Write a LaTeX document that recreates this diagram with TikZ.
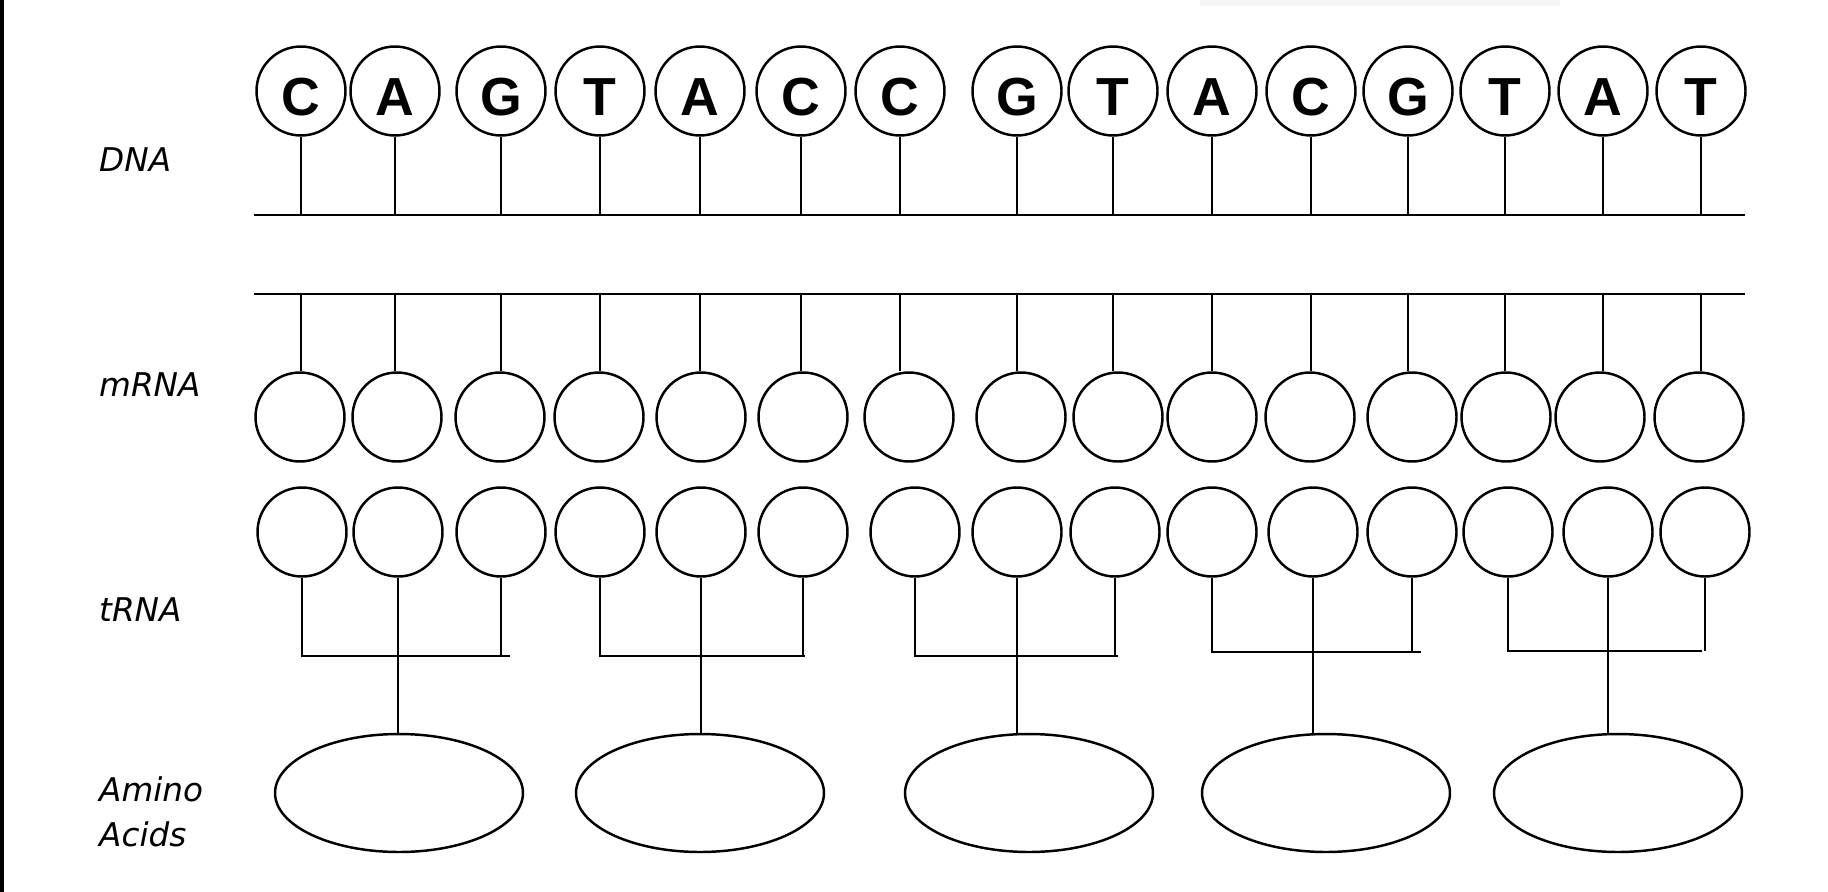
\documentclass[tikz,border=0pt]{standalone}
\usepackage{fontspec}
\setmainfont{DejaVu Sans}
\newfontfamily\letterfont{Liberation Sans}
\usetikzlibrary{shapes.geometric}
\begin{document}
\begin{tikzpicture}[x=0.02cm,y=-0.02cm,
  ball/.style={circle,draw,line width=1.4pt,minimum size=1.78cm,inner sep=0pt},
  dnaball/.style={ball,font=\letterfont\bfseries\fontsize{30.5}{30}\selectfont,text height=27.4pt,text depth=0pt},
  amino/.style={ellipse,draw,line width=1.4pt,minimum width=4.96cm,minimum height=2.36cm,inner sep=0pt},
  strand/.style={line width=1.5pt},
  stem/.style={line width=1.2pt},
  lab/.style={anchor=base west,font=\itshape\fontsize{18.6}{22}\selectfont}]
\useasboundingbox (0,0) rectangle (1828,892);
\fill[white] (0,0) rectangle (1828,892);
\fill[black] (0,0) rectangle (4,892);
\fill[black!4] (1200,0) rectangle (1560,6);

% labels
\node[lab] (lDNA) at (93,171) {DNA};
\node[lab] (lmRNA) at (93,396) {mRNA};
\node[lab] (ltRNA) at (93,621) {tRNA};
\node[lab] (lAmino) at (93,801) {Amino};
\node[lab] (lAcids) at (93,846) {Acids};

% strands
\coordinate (L1a) at (254,215);
\coordinate (L1b) at (1745,215);
\coordinate (L2a) at (254,294);
\coordinate (L2b) at (1745,294);
\draw[strand] (L1a) -- (L1b);
\draw[strand] (L2a) -- (L2b);

% DNA
\foreach \x/\l [count=\i] in {301/C,395/A,501/G,600/T,700/A,801/C,900/C,1017/G,1113/T,1212/A,1311/C,1408/G,1505/T,1603/A,1701/T}
  \node[dnaball] (d\i) at (\x,91) {\l};
% mRNA
\foreach \x [count=\i] in {300,397,500,599,701,803,909,1021,1118,1212,1310,1412,1506,1600,1699}
  \node[ball] (m\i) at (\x,417) {};
% tRNA
\foreach \x [count=\i] in {302,398,501,600,701,803,915,1017,1115,1212,1313,1412,1508,1608,1705}
  \node[ball] (t\i) at (\x,532) {};
% amino acids
\foreach \x [count=\i] in {399,700,1029,1326,1618}
  \node[amino] (a\i) at (\x,793) {};

% DNA stems and mRNA stems
\foreach \i in {1,...,15} {
  \draw[stem] (d\i.south) -- (d\i.south |- L1a);
  \draw[stem] (d\i.south |- L2a) -- (d\i.south |- m\i.north);
}

% tRNA brackets
\foreach \p/\q/\r/\g/\Y/\xe in {1/2/3/1/656/510, 4/5/6/2/656/805, 7/8/9/3/656/1118, 10/11/12/4/652/1421, 13/14/15/5/651/1702} {
  \coordinate (b\g) at (\xe,\Y);
  \draw[stem] (t\p.south) -- (t\p.south |- b\g) -- (b\g);
  \draw[stem] (t\r.south) -- (t\r.south |- b\g);
  \draw[stem] (t\q.south) -- (t\q.south |- a\g.north);
}
\end{tikzpicture}
\end{document}
